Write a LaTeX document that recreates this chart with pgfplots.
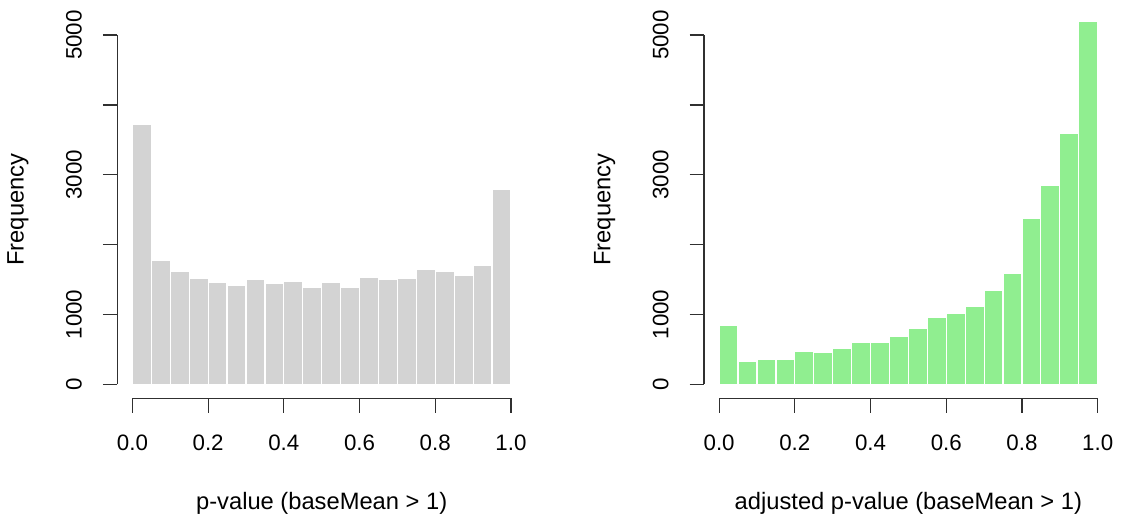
\documentclass[border=0pt]{standalone}
\usepackage{fontspec}
\setmainfont{Liberation Sans}
\usepackage{pgfplots}
\pgfplotsset{compat=1.18}
\definecolor{rlightgray}{HTML}{D3D3D3}
\definecolor{rlightgreen}{HTML}{90EE90}
\definecolor{axgray}{HTML}{303030}

\pgfplotsset{
  rhist/.style={
    scale only axis,
    width=204.4bp, height=188.6bp,
    xmin=-0.04, xmax=1.04, ymin=-200, ymax=5200,
    clip=false,
    axis lines*=left,
    axis line style={draw=none},
    tick align=outside,
    major tick length=7.2bp,
    tick style={axgray, line width=0.6bp},
    xtick={0,0.2,0.4,0.6,0.8,1},
    xticklabels={0.0,0.2,0.4,0.6,0.8,1.0},
    ytick={0,1000,2000,3000,4000,5000},
    yticklabels={0,1000,,3000,,5000},
    scaled y ticks=false,
    tick label style={font=\fontsize{11.2}{13}\selectfont},
    xticklabel style={anchor=center, yshift=-15bp},
    yticklabel style={xshift=-14.5bp, rotate=90, anchor=center},
    label style={font=\fontsize{11.9}{14}\selectfont},
    xlabel style={at={(axis description cs:0.5,-0.278)}, anchor=center},
    ylabel style={at={(axis description cs:-0.243,0.5)}, anchor=center, rotate=0},
    ylabel={Frequency},
  }
}

\begin{document}
\begin{tikzpicture}
\path[use as bounding box] (0,0) rectangle (561bp,258bp);

\begin{axis}[rhist, at={(58.65bp,58.85bp)}, anchor=south west,
  xlabel={p-value (baseMean > 1)}]
\addplot[ybar interval, fill=rlightgray, draw=white, line width=0.6bp]
coordinates {
(0.00,3721) (0.05,1775) (0.10,1622) (0.15,1512) (0.20,1460)
(0.25,1417) (0.30,1498) (0.35,1446) (0.40,1474) (0.45,1393)
(0.50,1465) (0.55,1384) (0.60,1536) (0.65,1508) (0.70,1522)
(0.75,1646) (0.80,1613) (0.85,1555) (0.90,1708) (0.95,2786)
(1.00,2786)
};
\draw[axgray, line width=0.6bp] (axis cs:0,-200) -- (axis cs:1,-200);
\draw[axgray, line width=0.6bp] (axis cs:-0.04,0) -- (axis cs:-0.04,5000);
\end{axis}

\begin{axis}[rhist, at={(352bp,58.85bp)}, anchor=south west,
  xlabel={adjusted p-value (baseMean > 1)}]
\addplot[ybar interval, fill=rlightgreen, draw=white, line width=0.6bp]
coordinates {
(0.00,844) (0.05,334) (0.10,358) (0.15,358) (0.20,468)
(0.25,463) (0.30,510) (0.35,606) (0.40,596) (0.45,687)
(0.50,806) (0.55,964) (0.60,1021) (0.65,1112) (0.70,1345)
(0.75,1594) (0.80,2381) (0.85,2844) (0.90,3588) (0.95,5200)
(1.00,5200)
};
\draw[axgray, line width=0.6bp] (axis cs:0,-200) -- (axis cs:1,-200);
\draw[axgray, line width=0.6bp] (axis cs:-0.04,0) -- (axis cs:-0.04,5000);
\end{axis}
\end{tikzpicture}
\end{document}
